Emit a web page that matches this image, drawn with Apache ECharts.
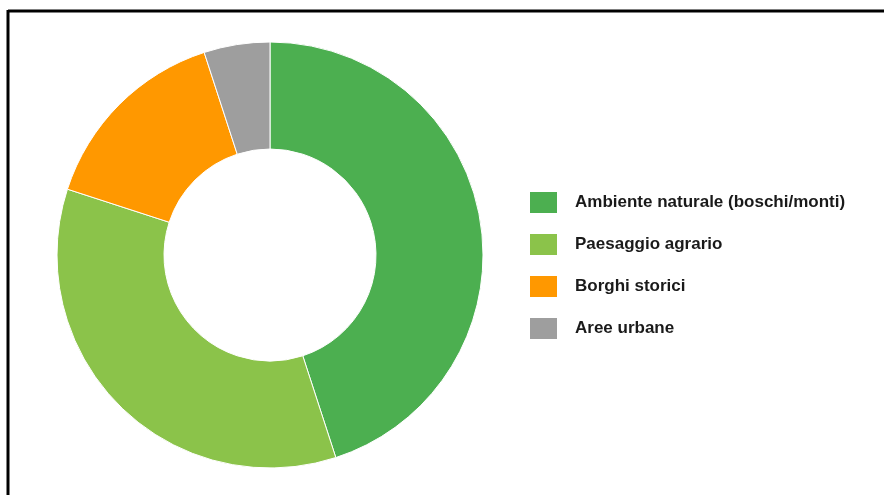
<!DOCTYPE html>
<html>
<head>
<meta charset="utf-8">
<script src="https://cdn.jsdelivr.net/npm/echarts@6/dist/echarts.min.js"></script>
<style>
html,body{margin:0;padding:0;background:#fff;}
#chart{width:893px;height:495px;}
</style>
</head>
<body>
<div id="chart"></div>
<script>
const categories = ["Ambiente naturale (boschi/monti)", "Paesaggio agrario", "Borghi storici", "Aree urbane"];
const values = [45, 35, 15, 5];
const colors = ["#4caf50", "#8bc34a", "#ff9800", "#9e9e9e"];

const chart = echarts.init(document.getElementById('chart'));
chart.setOption({
  backgroundColor: '#ffffff',
  animation: false,
  graphic: [
    { type: 'line', shape: { x1: 8, y1: 11, x2: 884, y2: 11 }, style: { stroke: '#000', lineWidth: 3 } },
    { type: 'line', shape: { x1: 8, y1: 10, x2: 8, y2: 495 }, style: { stroke: '#000', lineWidth: 3 } }
  ],
  legend: {
    orient: 'vertical',
    left: 530,
    top: 192,
    padding: 0,
    itemWidth: 27,
    itemHeight: 21,
    itemGap: 21,
    icon: 'rect',
    itemStyle: { borderWidth: 0 },
    data: categories,
    textStyle: {
      fontFamily: 'Liberation Sans, Arial, sans-serif',
      fontWeight: 'bold',
      fontSize: 17,
      color: '#1a1a1a',
      padding: [0, 0, 0, 13]
    }
  },
  series: [{
    type: 'pie',
    center: [270, 255],
    radius: [106, 213],
    startAngle: 90,
    clockwise: true,
    label: { show: false },
    labelLine: { show: false },
    emphasis: { disabled: true },
    itemStyle: { borderColor: '#ffffff', borderWidth: 1 },
    data: categories.map((c, i) => ({ name: c, value: values[i], itemStyle: { color: colors[i] } }))
  }]
});
</script>
</body>
</html>
